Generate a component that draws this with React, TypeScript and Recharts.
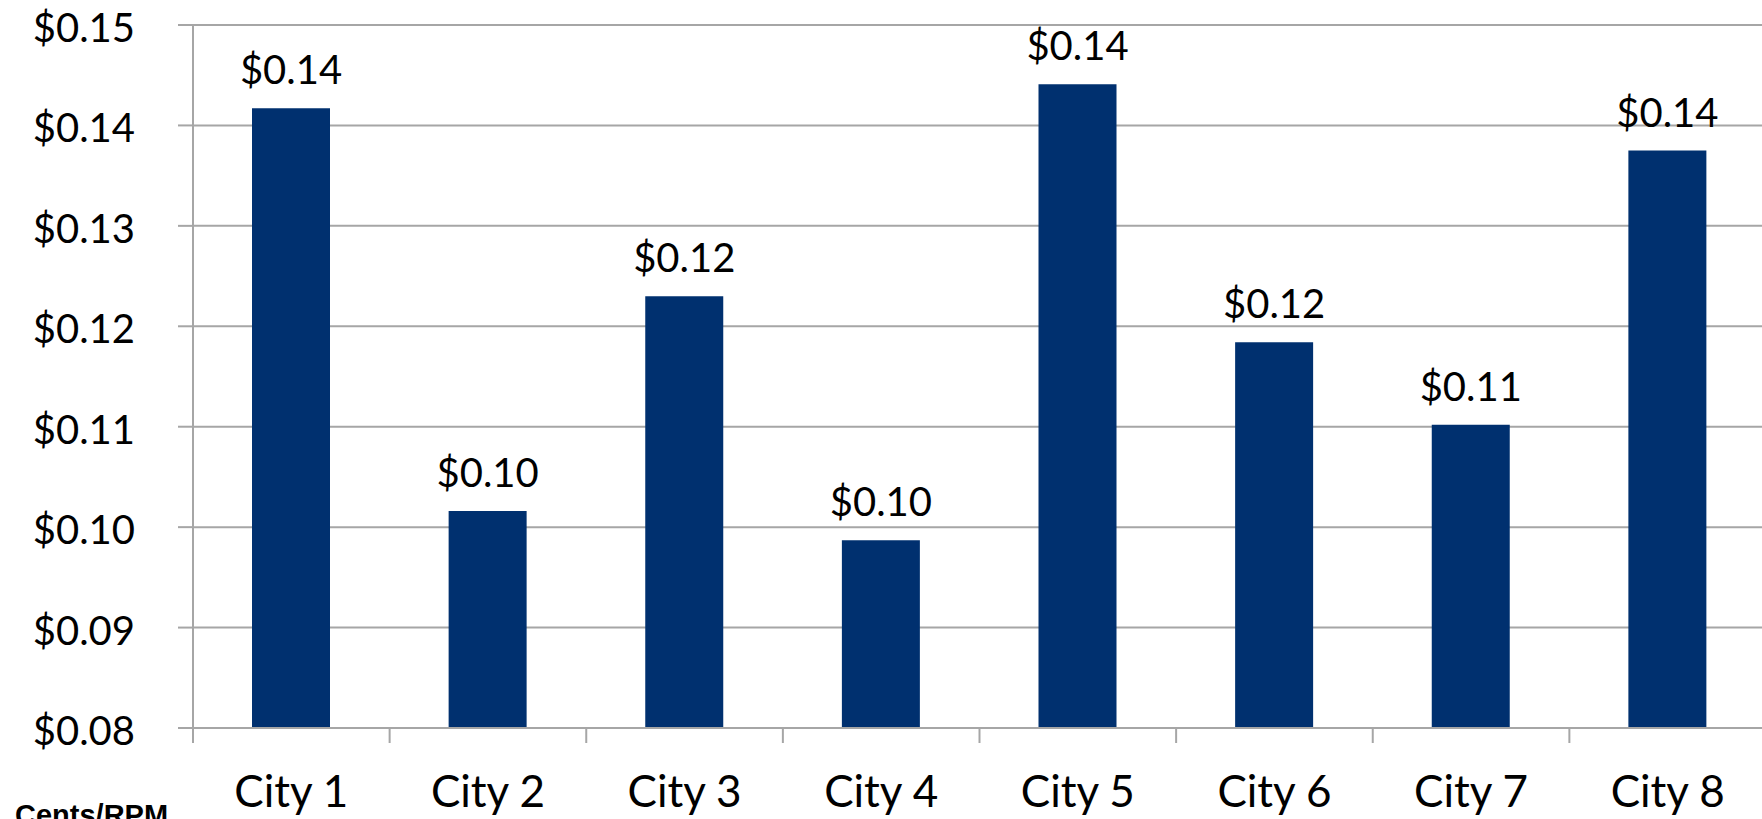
import { BarChart, Bar, XAxis, YAxis, CartesianGrid, LabelList } from "recharts";

const cities = ["City 1", "City 2", "City 3", "City 4", "City 5", "City 6", "City 7", "City 8"];
const costPerRpm = [0.1417, 0.1016, 0.123, 0.0987, 0.1441, 0.1184, 0.1102, 0.1375];
const yTicks = [0.08, 0.09, 0.1, 0.11, 0.12, 0.13, 0.14, 0.15];

const data = cities.map((city, i) => ({ city, cost: costPerRpm[i] }));

const WIDTH = 1770;
const HEIGHT = 819;
const Y_AXIS_W = 193;
const RIGHT = 4;
const BAND = (WIDTH - Y_AXIS_W - RIGHT) / cities.length;
const GRID = "#a6a6a6";
const BAR = "#00306f";
const FONT = "Lato, 'Open Sans', sans-serif";

const money = (v: number) => "$" + v.toFixed(2);

function CityTick(props: any) {
  const { x, y, payload } = props;
  const left = x - BAND / 2;
  const last = payload.value === cities[cities.length - 1];
  return (
    <g>
      <line x1={left} x2={left} y1={y} y2={y + 15} stroke={GRID} strokeWidth={2} />
      {last && <line x1={x + BAND / 2} x2={x + BAND / 2} y1={y} y2={y + 15} stroke={GRID} strokeWidth={2} />}
      <text x={x} y={y + 79} textAnchor="middle" fontSize={44} fontFamily={FONT} fill="#000">
        {payload.value}
      </text>
    </g>
  );
}

function MoneyTick(props: any) {
  const { x, y, payload } = props;
  return (
    <text x={x - 43} y={y + 17} textAnchor="end" fontSize={40} fontFamily={FONT} fill="#000">
      {money(payload.value)}
    </text>
  );
}

function BarValue(props: any) {
  const { x, y, width, value } = props;
  return (
    <text x={x + width / 2} y={y - 24} textAnchor="middle" fontSize={40} fontFamily={FONT} fill="#000">
      {money(value)}
    </text>
  );
}

export default function App() {
  return (
    <div
      style={{
        position: "absolute",
        left: 0,
        top: 0,
        width: 1762,
        height: 819,
        overflow: "hidden",
        background: "#fff",
      }}
    >
      <BarChart width={WIDTH} height={HEIGHT} data={data} margin={{ top: 25, right: RIGHT, bottom: 0, left: 0 }}>
        <CartesianGrid vertical={false} stroke={GRID} strokeWidth={2} />
        <XAxis
          dataKey="city"
          height={91}
          interval={0}
          tickLine={false}
          tickSize={0}
          tickMargin={0}
          axisLine={{ stroke: GRID, strokeWidth: 2 }}
          tick={<CityTick />}
        />
        <YAxis
          width={Y_AXIS_W}
          domain={[0.08, 0.15]}
          ticks={yTicks}
          interval={0}
          tickSize={15}
          tickMargin={0}
          tickLine={{ stroke: GRID, strokeWidth: 2 }}
          axisLine={{ stroke: GRID, strokeWidth: 2 }}
          tick={<MoneyTick />}
        />
        <Bar dataKey="cost" fill={BAR} barSize={78} isAnimationActive={false}>
          <LabelList dataKey="cost" content={<BarValue />} />
        </Bar>
      </BarChart>
      <div
        style={{
          position: "absolute",
          left: 15,
          top: 801,
          fontFamily: "'Liberation Sans', Arial, sans-serif",
          fontWeight: "bold",
          fontSize: 29,
          lineHeight: "29px",
          whiteSpace: "nowrap",
          color: "#000",
        }}
      >
        Cents/RPM
      </div>
    </div>
  );
}
